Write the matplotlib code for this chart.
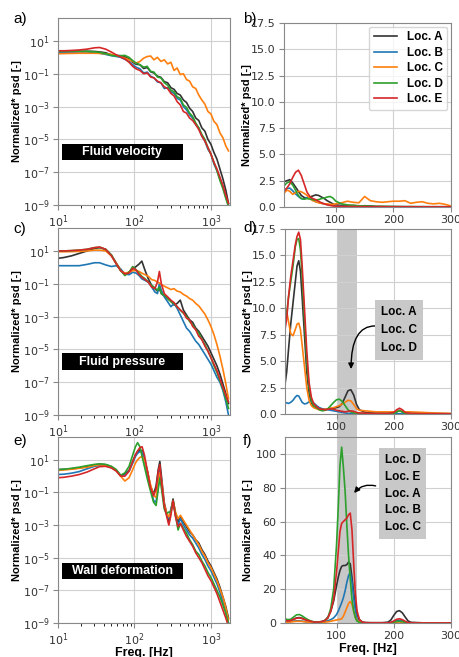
import numpy as np
import matplotlib
matplotlib.use("Agg")
import matplotlib.pyplot as plt
from matplotlib.patches import Rectangle
from matplotlib import transforms
from matplotlib.ticker import NullLocator

# ---- data --------------------------------------------------------------
LABELS = ["Loc. A", "Loc. B", "Loc. C", "Loc. D", "Loc. E"]
COLORS = ["#333333", "#1f77b4", "#ff7f0e", "#2ca02c", "#d62728"]

# log panels: values are log10(psd)
FREQ_VEL = [10, 12, 15, 19, 24, 30, 35, 42, 50, 58, 66, 75, 85, 95, 105, 118, 132, 147, 163, 180,
            200, 222, 246, 272, 300, 330, 362, 398, 437, 480, 527, 578, 634, 695, 762, 835, 915, 1002,
            1097, 1200, 1313, 1436, 1570, 1700]
VEL_A = [0.33, 0.34, 0.35, 0.36, 0.37, 0.36, 0.33, 0.28, 0.15, 0.12, 0.10, 0.02, -0.10, -0.30, -0.42,
         -0.45, -0.68, -0.62, -0.88, -0.95, -1.15, -1.22, -1.48, -1.55, -1.85, -1.95, -2.2, -2.3, -2.6,
         -2.75, -3.1, -3.3, -3.7, -3.85, -4.3, -4.5, -5.0, -5.3, -5.8, -6.2, -6.8, -7.4, -8.1, -8.9]
VEL_B = [0.30, 0.31, 0.32, 0.33, 0.33, 0.30, 0.25, 0.18, 0.10, 0.05, 0.0, -0.12, -0.25, -0.45, -0.6,
         -0.7, -0.95, -0.9, -1.15, -1.25, -1.5, -1.55, -1.9, -1.85, -2.1, -2.2, -2.5, -2.6, -3.0, -3.2,
         -3.5, -3.7, -4.1, -4.3, -4.8, -5.1, -5.6, -5.9, -6.5, -6.9, -7.4, -7.9, -8.5, -9.0]
VEL_C = [0.22, 0.23, 0.24, 0.25, 0.25, 0.25, 0.24, 0.22, 0.18, 0.12, 0.05, -0.05, -0.15, -0.25, -0.35,
         -0.25, -0.05, 0.05, 0.08, -0.15, 0.0, -0.25, -0.15, -0.4, -0.3, -0.8, -0.65, -1.05, -1.0, -1.35,
         -1.45, -1.8, -1.9, -2.3, -2.6, -2.85, -3.3, -3.45, -3.9, -4.1, -4.6, -4.9, -5.4, -5.7]
VEL_D = [0.36, 0.37, 0.38, 0.38, 0.37, 0.34, 0.30, 0.22, 0.12, 0.08, 0.10, 0.12, 0.0, -0.2, -0.35,
         -0.45, -0.6, -0.55, -0.85, -0.9, -1.2, -1.25, -1.55, -1.7, -2.0, -2.1, -2.4, -2.5, -2.9, -3.05,
         -3.4, -3.6, -4.0, -4.3, -4.7, -5.0, -5.5, -5.9, -6.4, -6.9, -7.5, -8.0, -8.6, -9.1]
VEL_E = [0.40, 0.40, 0.42, 0.45, 0.50, 0.58, 0.60, 0.50, 0.32, 0.15, 0.02, -0.1, -0.3, -0.55, -0.7,
         -0.8, -1.0, -0.95, -1.2, -1.25, -1.45, -1.55, -1.8, -1.9, -2.2, -2.35, -2.7, -2.9, -3.3, -3.4,
         -3.7, -3.85, -4.1, -4.4, -4.8, -5.1, -5.5, -5.9, -6.4, -6.8, -7.3, -7.8, -8.4, -8.9]

FREQ_PRES = [10, 12, 15, 19, 24, 30, 35, 42, 50, 58, 66, 75, 85, 95, 105, 115, 125, 138, 152, 168,
             185, 200, 212, 225, 246, 272, 300, 330, 362, 398, 437, 480, 527, 578, 634, 695, 762, 835,
             915, 1002, 1097, 1200, 1313, 1436, 1570, 1700]
PRES_A = [0.55, 0.6, 0.7, 0.85, 1.0, 1.15, 1.2, 1.1, 0.75, 0.25, -0.15, -0.4, -0.3, -0.1, 0.05, 0.2,
          0.38, -0.2, -0.7, -1.1, -1.3, -1.45, -1.3, -1.6, -1.75, -1.9, -2.05, -2.3, -2.2, -2.0, -2.6,
          -2.9, -3.2, -3.35, -3.7, -3.9, -4.2, -4.5, -4.8, -5.2, -5.6, -6.0, -6.5, -7.1, -7.7, -8.3]
PRES_B = [0.1, 0.1, 0.1, 0.1, 0.18, 0.28, 0.28, 0.15, 0.05, 0.1, -0.1, -0.4, -0.45, -0.3, -0.35, -0.5,
          -0.7, -0.8, -0.9, -1.2, -1.5, -1.6, -1.0, -1.4, -1.8, -2.1, -2.4, -2.2, -2.5, -2.9, -3.3,
          -3.7, -3.9, -4.2, -4.5, -4.7, -5.0, -5.3, -5.6, -5.9, -6.3, -6.7, -7.0, -7.5, -8.2, -9.0]
PRES_C = [0.95, 0.95, 0.96, 0.97, 1.0, 1.05, 1.05, 1.0, 0.7, 0.25, -0.2, -0.35, -0.3, -0.2, -0.2,
          -0.25, -0.35, -0.45, -0.55, -0.75, -0.8, -0.9, -0.95, -1.05, -1.15, -1.25, -1.35, -1.3,
          -1.45, -1.5, -1.65, -1.75, -1.9, -2.0, -2.2, -2.35, -2.6, -2.85, -3.2, -3.6, -4.1, -4.7,
          -5.4, -6.2, -7.1, -8.0]
PRES_D = [1.0, 1.0, 1.02, 1.05, 1.1, 1.2, 1.22, 1.1, 0.75, 0.2, -0.2, -0.5, -0.3, 0.05, -0.15, -0.35,
          -0.55, -0.7, -0.9, -1.1, -1.25, -1.4, -1.2, -1.6, -1.7, -1.9, -2.1, -2.2, -2.4, -2.6, -2.8,
          -3.0, -3.3, -3.5, -3.8, -4.0, -4.4, -4.7, -5.1, -5.5, -6.0, -6.4, -6.9, -7.4, -8.0, -8.6]
PRES_E = [1.0, 1.0, 1.02, 1.05, 1.1, 1.2, 1.24, 1.1, 0.7, 0.2, -0.2, -0.4, -0.35, -0.05, -0.15, -0.45,
          -0.6, -0.75, -0.9, -1.2, -1.3, -0.9, -0.25, -1.0, -1.6, -1.8, -2.0, -2.15, -2.4, -2.6, -2.75,
          -3.1, -3.2, -3.6, -3.8, -4.2, -4.4, -4.8, -5.1, -5.5, -5.9, -6.3, -6.8, -7.3, -7.8, -8.2]

FREQ_WALL = [10, 12, 15, 19, 24, 30, 35, 42, 50, 58, 66, 75, 85, 95, 103, 110, 118, 126, 135, 148,
             162, 178, 192, 205, 215, 228, 245, 262, 282, 300, 320, 345, 372, 400, 437, 480, 527, 578,
             634, 695, 762, 835, 915, 1002, 1097, 1200, 1313, 1436, 1570, 1700]
WALL_A = [0.4, 0.42, 0.45, 0.5, 0.58, 0.68, 0.73, 0.7, 0.58, 0.35, 0.02, 0.15, 0.35, 0.9, 1.3, 1.5,
          1.6, 1.55, 1.1, 0.3, -0.6, -1.1, -0.6, 0.4, 0.9, -0.2, -1.6, -2.2, -2.9, -2.1, -1.4, -2.3,
          -2.8, -2.5, -2.8, -3.1, -3.4, -3.6, -3.9, -4.1, -4.5, -4.8, -5.2, -5.5, -5.9, -6.3, -6.8,
          -7.4, -8.0, -8.7]
WALL_B = [0.1, 0.12, 0.18, 0.28, 0.45, 0.6, 0.65, 0.63, 0.52, 0.35, 0.05, 0.05, 0.3, 0.8, 1.2, 1.4,
          1.5, 1.5, 1.0, 0.1, -0.7, -1.5, -1.6, -0.6, 0.4, -0.6, -1.8, -2.3, -2.6, -2.0, -1.6, -2.4,
          -3.0, -2.6, -3.0, -3.3, -3.6, -3.8, -4.1, -4.4, -4.8, -5.1, -5.5, -5.8, -6.2, -6.6, -7.1,
          -7.7, -8.3, -9.0]
WALL_C = [0.35, 0.38, 0.42, 0.48, 0.55, 0.65, 0.7, 0.66, 0.55, 0.35, 0.0, -0.3, -0.1, 0.4, 0.8, 1.0,
          1.15, 1.2, 1.0, 0.3, -0.5, -1.2, -1.3, -0.4, 0.2, -0.4, -1.7, -2.2, -2.5, -2.2, -1.5, -2.2,
          -2.6, -2.4, -2.7, -3.0, -3.3, -3.6, -3.9, -4.2, -4.6, -4.9, -5.3, -5.6, -6.0, -6.4, -6.9,
          -7.4, -8.1, -8.8]
WALL_D = [0.4, 0.42, 0.48, 0.55, 0.64, 0.72, 0.75, 0.72, 0.6, 0.4, 0.05, 0.2, 0.6, 1.3, 1.8, 2.05,
          1.8, 1.2, 0.6, -0.2, -0.9, -1.6, -1.8, -0.8, -0.1, -0.9, -2.0, -2.3, -2.2, -2.2, -1.5, -2.4,
          -3.3, -2.9, -3.2, -3.5, -3.9, -4.2, -4.6, -4.8, -5.2, -5.5, -5.9, -6.2, -6.6, -7.0, -7.4,
          -7.9, -8.4, -9.0]
WALL_E = [-0.1, -0.07, 0.0, 0.1, 0.25, 0.45, 0.58, 0.6, 0.5, 0.3, 0.0, 0.0, 0.3, 0.9, 1.3, 1.55,
          1.75, 1.8, 1.3, 0.3, -0.7, -1.2, -0.8, 0.3, 0.7, -0.5, -1.8, -2.4, -3.0, -2.4, -1.5, -2.5,
          -3.1, -2.9, -3.3, -3.7, -4.0, -4.3, -4.7, -5.0, -5.3, -5.7, -6.1, -6.4, -6.8, -7.2, -7.7,
          -8.2, -8.7, -9.2]

# linear panels
FREQ_VEL_LIN = [10, 15, 20, 25, 30, 35, 40, 45, 50, 55, 60, 65, 70, 75, 80, 85, 90, 95, 100, 110,
                120, 130, 140, 150, 160, 170, 180, 190, 200, 210, 220, 230, 240, 250, 260, 270, 280,
                290, 300]
LIN_VEL_A = [2.4, 2.5, 2.6, 2.3, 1.9, 1.5, 1.1, 0.9, 0.85, 0.95, 1.05, 1.15, 1.1, 0.95, 0.8, 0.6, 0.45,
             0.3, 0.2, 0.15, 0.12, 0.15, 0.1, 0.12, 0.1, 0.05, 0.05, 0.04, 0.04, 0.03, 0.03, 0.03,
             0.02, 0.02, 0.02, 0.02, 0.02, 0.02, 0.02]
LIN_VEL_B = [1.6, 1.75, 1.8, 1.55, 1.25, 1.0, 0.8, 0.75, 0.9, 0.85, 0.7, 0.5, 0.45, 0.35, 0.3, 0.25,
             0.2, 0.15, 0.1, 0.06, 0.05, 0.04, 0.03, 0.03, 0.03, 0.02, 0.02, 0.02, 0.02, 0.02, 0.02,
             0.02, 0.02, 0.02, 0.02, 0.02, 0.02, 0.02, 0.02]
LIN_VEL_C = [1.3, 1.6, 1.5, 1.2, 1.35, 1.5, 1.45, 1.3, 1.1, 0.8, 0.6, 0.5, 0.4, 0.35, 0.3, 0.3, 0.25,
             0.25, 0.3, 0.4, 0.55, 0.45, 0.4, 1.0, 0.6, 0.5, 0.45, 0.5, 0.55, 0.55, 0.6, 0.35, 0.45,
             0.5, 0.35, 0.3, 0.35, 0.25, 0.1]
LIN_VEL_D = [2.0, 2.3, 2.4, 2.1, 1.6, 1.1, 0.8, 0.75, 0.8, 0.75, 0.7, 0.65, 0.7, 0.8, 0.85, 0.95, 1.0,
             0.85, 0.55, 0.3, 0.2, 0.15, 0.12, 0.1, 0.08, 0.06, 0.05, 0.05, 0.04, 0.04, 0.03, 0.03,
             0.03, 0.03, 0.02, 0.02, 0.02, 0.02, 0.02]
LIN_VEL_E = [1.5, 1.8, 2.2, 2.8, 3.3, 3.5, 3.0, 2.2, 1.4, 1.0, 0.8, 0.7, 0.55, 0.4, 0.3, 0.2, 0.15,
             0.1, 0.08, 0.05, 0.05, 0.04, 0.04, 0.03, 0.03, 0.03, 0.03, 0.02, 0.02, 0.02, 0.02, 0.02,
             0.02, 0.02, 0.02, 0.02, 0.02, 0.02, 0.02]

FREQ_PRES_LIN = [10, 13, 16, 20, 24, 28, 31, 34, 37, 40, 44, 48, 52, 56, 60, 65, 70, 75, 80, 85, 90,
                 95, 100, 105, 110, 115, 120, 125, 130, 135, 140, 150, 160, 170, 180, 190, 200, 205,
                 210, 215, 220, 230, 250, 270, 300]
LIN_PRES_A = [2.8, 4.0, 6.0, 8.5, 10.5, 12.5, 14.0, 14.5, 13.5, 11.0, 7.5, 4.0, 2.0, 1.0, 0.7, 0.55,
              0.45, 0.4, 0.4, 0.45, 0.5, 0.55, 0.6, 0.7, 1.0, 1.6, 2.2, 2.3, 1.8, 0.9, 0.4, 0.15, 0.1,
              0.08, 0.08, 0.08, 0.1, 0.2, 0.35, 0.2, 0.08, 0.05, 0.04, 0.03, 0.02]
LIN_PRES_B = [1.1, 1.05, 1.0, 1.1, 1.3, 1.6, 1.75, 1.7, 1.4, 1.1, 0.95, 1.0, 1.15, 1.2, 1.05, 0.8,
              0.6, 0.5, 0.45, 0.4, 0.35, 0.3, 0.25, 0.2, 0.15, 0.1, 0.05, 0.04, 0.03, 0.03, 0.03,
              0.02, 0.02, 0.02, 0.02, 0.02, 0.02, 0.02, 0.03, 0.02, 0.02, 0.02, 0.02, 0.02, 0.02]
LIN_PRES_C = [10.0, 9.7, 8.8, 7.6, 7.4, 8.0, 8.5, 8.6, 8.0, 6.5, 4.5, 2.5, 1.3, 0.8, 0.6, 0.5, 0.4,
              0.4, 0.45, 0.5, 0.55, 0.6, 0.7, 0.8, 0.95, 1.1, 1.3, 1.25, 0.9, 0.5, 0.35, 0.3, 0.25,
              0.2, 0.2, 0.2, 0.2, 0.25, 0.3, 0.25, 0.2, 0.2, 0.15, 0.1, 0.05]
LIN_PRES_D = [8.5, 9.5, 11.0, 12.5, 14.0, 15.8, 16.5, 16.6, 15.5, 13.0, 9.0, 5.0, 2.5, 1.3, 0.8, 0.6,
              0.4, 0.3, 0.35, 0.5, 0.8, 1.1, 1.35, 1.4, 1.2, 0.8, 0.4, 0.2, 0.1, 0.05, 0.03, 0.03,
              0.03, 0.03, 0.03, 0.03, 0.05, 0.2, 0.3, 0.2, 0.05, 0.03, 0.02, 0.02, 0.02]
LIN_PRES_E = [8.0, 9.0, 11.0, 13.0, 14.5, 16.0, 16.8, 17.2, 16.5, 14.0, 10.0, 6.0, 3.0, 1.6, 1.0,
              0.7, 0.5, 0.45, 0.4, 0.45, 0.5, 0.45, 0.35, 0.3, 0.25, 0.2, 0.25, 0.3, 0.25, 0.15, 0.1,
              0.08, 0.05, 0.05, 0.05, 0.05, 0.15, 0.4, 0.55, 0.4, 0.15, 0.05, 0.03, 0.03, 0.02]

FREQ_WALL_LIN = [10, 15, 20, 25, 30, 35, 40, 45, 50, 55, 60, 65, 70, 75, 80, 85, 90, 95, 100, 103,
                 106, 109, 112, 115, 118, 121, 124, 127, 130, 133, 136, 140, 145, 150, 160, 170, 180,
                 190, 195, 200, 205, 210, 215, 220, 225, 230, 250, 270, 300]
LIN_WALL_A = [1.5, 1.2, 1.5, 2.2, 3.0, 3.2, 2.8, 2.0, 1.4, 0.9, 0.6, 0.5, 0.6, 0.9, 1.6, 3.5, 7.0, 13,
              22, 27, 31, 33.5, 34, 34, 34.5, 36, 35, 27, 18, 10, 5, 2, 0.6, 0.3, 0.2, 0.2, 0.2, 0.5,
              1.8, 4.5, 6.8, 7.3, 6.0, 3.5, 1.2, 0.4, 0.1, 0.05, 0.05]
LIN_WALL_B = [1.0, 0.8, 0.9, 1.1, 1.3, 1.3, 1.1, 0.8, 0.6, 0.4, 0.3, 0.3, 0.35, 0.5, 0.8, 1.3, 2.0,
              3.0, 5.0, 7.0, 9.5, 12, 15, 19, 24, 28, 30, 24, 15, 7, 2.5, 0.8, 0.3, 0.1, 0.05, 0.05,
              0.05, 0.1, 0.3, 0.8, 1.4, 1.6, 1.2, 0.5, 0.1, 0.05, 0.03, 0.03, 0.03]
LIN_WALL_C = [0.6, 0.5, 0.6, 0.8, 1.0, 1.0, 0.9, 0.7, 0.5, 0.35, 0.3, 0.3, 0.3, 0.4, 0.5, 0.7, 1.0,
              1.4, 1.8, 2.0, 2.2, 2.5, 4.0, 6.5, 9.0, 11.5, 12.7, 11, 7, 3.5, 1.5, 0.6, 0.2, 0.1,
              0.05, 0.05, 0.05, 0.05, 0.1, 0.3, 0.5, 0.6, 0.4, 0.2, 0.05, 0.03, 0.02, 0.02, 0.02]
LIN_WALL_D = [2.5, 2.0, 2.2, 3.5, 4.8, 5.0, 4.2, 3.0, 2.0, 1.2, 0.7, 0.5, 0.6, 0.9, 1.5, 3.0, 8.8,
              20, 46, 68, 93, 104, 92, 78, 58, 40, 26, 14, 7, 3, 1.0, 0.3, 0.1, 0.05, 0.05, 0.05,
              0.05, 0.05, 0.2, 0.5, 0.9, 1.0, 0.8, 0.4, 0.1, 0.05, 0.03, 0.03, 0.03]
LIN_WALL_E = [1.5, 1.2, 1.5, 2.2, 2.8, 3.0, 2.6, 2.0, 1.5, 1.0, 0.6, 0.5, 0.6, 0.9, 1.5, 3.0, 7.0,
              14, 30, 42, 54, 59, 60, 61, 62, 64, 65, 55, 35, 17, 7, 2, 0.5, 0.2, 0.1, 0.1, 0.1, 0.1,
              0.4, 1.2, 2.2, 2.5, 2.0, 1.0, 0.3, 0.1, 0.05, 0.05, 0.05]

BAND = (100, 135)  # highlighted frequency range [Hz]

# ---- figure ---------------------------------------------------------------
W, H = 459, 657
fig = plt.figure(figsize=(W / 100, H / 100), dpi=100)
LABEL_FONT = "Liberation Sans"
YLABEL = "Normalized* psd [-]"


def px_axes(l, t, r, b):
    return fig.add_axes([l / W, 1 - b / H, (r - l) / W, (b - t) / H])


def common_style(ax):
    ax.grid(True, which="major", color="#d0d0d0", lw=0.8)
    ax.set_axisbelow(True)
    for s in ax.spines.values():
        s.set_color("#888888")
        s.set_linewidth(0.8)
    ax.tick_params(labelsize=8, labelcolor="#333333", color="#888888", pad=2.5)
    ax.set_ylabel(YLABEL, fontsize=8, fontweight="bold", family=LABEL_FONT)


def log_panel(ax, freqs, series, tag, box_y):
    for vals, c, lab in zip(series, COLORS, LABELS):
        ax.plot(freqs, 10.0 ** np.array(vals), color=c, lw=1.2, label=lab)
    ax.set_xscale("log")
    ax.set_yscale("log")
    ax.set_xlim(10, 1780)
    ax.set_ylim(1e-9, 250)
    ax.set_yticks([1e1, 1e-1, 1e-3, 1e-5, 1e-7, 1e-9])
    ax.yaxis.set_minor_locator(NullLocator())
    common_style(ax)
    ax.yaxis.set_label_coords(-0.21, 0.5)
    ax.add_patch(Rectangle((0.023, box_y), 0.704, 0.086, transform=ax.transAxes,
                           facecolor="black", edgecolor="none", zorder=5))
    ax.text(0.375, box_y + 0.043, tag, transform=ax.transAxes, color="white",
            fontweight="bold", family=LABEL_FONT, fontsize=9, ha="center", va="center", zorder=6)


def lin_panel(ax, freqs, series, ylim):
    for vals, c, lab in zip(series, COLORS, LABELS):
        ax.plot(freqs, vals, color=c, lw=1.2, label=lab)
    ax.set_xlim(10, 300)
    ax.set_ylim(*ylim)
    ax.set_xticks([100, 200, 300])
    common_style(ax)
    ax.yaxis.set_label_coords(-0.19, 0.5)


ax_a = px_axes(58, 18, 230, 205)
ax_b = px_axes(284, 23, 451, 207)
ax_c = px_axes(58, 228, 230, 415)
ax_d = px_axes(285, 229, 451, 414)
ax_e = px_axes(58, 437, 230, 623)
ax_f = px_axes(285, 437, 451, 623)

log_panel(ax_a, FREQ_VEL, [VEL_A, VEL_B, VEL_C, VEL_D, VEL_E], "Fluid velocity", 0.24)
log_panel(ax_c, FREQ_PRES, [PRES_A, PRES_B, PRES_C, PRES_D, PRES_E], "Fluid pressure", 0.243)
log_panel(ax_e, FREQ_WALL, [WALL_A, WALL_B, WALL_C, WALL_D, WALL_E], "Wall deformation", 0.237)

lin_panel(ax_b, FREQ_VEL_LIN, [LIN_VEL_A, LIN_VEL_B, LIN_VEL_C, LIN_VEL_D, LIN_VEL_E], (0, 17.5))
lin_panel(ax_d, FREQ_PRES_LIN, [LIN_PRES_A, LIN_PRES_B, LIN_PRES_C, LIN_PRES_D, LIN_PRES_E], (0, 17.5))
lin_panel(ax_f, FREQ_WALL_LIN, [LIN_WALL_A, LIN_WALL_B, LIN_WALL_C, LIN_WALL_D, LIN_WALL_E], (0, 110))
ax_f.set_yticks([0, 20, 40, 60, 80, 100])

ax_b.legend(loc="upper right", prop={"family": LABEL_FONT, "weight": "bold", "size": 8.5},
            labelspacing=0.3, borderaxespad=0.3, handlelength=2.0)

ax_e.set_xlabel("Freq. [Hz]", fontsize=9, fontweight="bold", family=LABEL_FONT, labelpad=-1)
ax_f.set_xlabel("Freq. [Hz]", fontsize=9, fontweight="bold", family=LABEL_FONT, labelpad=1)

# grey band running through panels d and f
ax_d.set_facecolor("none")
ax_f.set_facecolor("none")
band_tr = transforms.blended_transform_factory(ax_d.transData, fig.transFigure)
fig.add_artist(Rectangle((BAND[0], 1 - 623 / H), BAND[1] - BAND[0], (623 - 229) / H,
                         transform=band_tr, facecolor="#c8c8c8", edgecolor="none", zorder=-1))

note_kw = dict(ha="center", va="center", fontsize=8.5, fontweight="bold",
               family=LABEL_FONT, zorder=6,
               bbox=dict(boxstyle="square,pad=0.5", facecolor="#c8c8c8", edgecolor="none"))
ax_d.text(0.687, 0.454, "Loc. A\nLoc. C\nLoc. D", linespacing=1.7,
          transform=ax_d.transAxes, **note_kw)
ax_d.annotate("", xy=(0.398, 0.243), xytext=(0.542, 0.476), xycoords="axes fraction",
              textcoords="axes fraction",
              arrowprops=dict(arrowstyle="-|>", color="black", lw=1.0, mutation_scale=8,
                              shrinkA=0, shrinkB=0,
                              connectionstyle="angle3,angleA=0,angleB=90"))
ax_f.text(0.708, 0.696, "Loc. D\nLoc. E\nLoc. A\nLoc. B\nLoc. C", linespacing=1.55,
          transform=ax_f.transAxes, **note_kw)
ax_f.annotate("", xy=(0.416, 0.699), xytext=(0.546, 0.737), xycoords="axes fraction",
              textcoords="axes fraction",
              arrowprops=dict(arrowstyle="-|>", color="black", lw=1.0, mutation_scale=8,
                              shrinkA=0, shrinkB=0, connectionstyle="arc3,rad=0.3"))

# panel letters
for txt, x, y in [("a)", 13, 19), ("b)", 243, 19), ("c)", 13, 229),
                  ("d)", 243, 228), ("e)", 13, 441), ("f)", 243, 441)]:
    fig.text(x / W, 1 - y / H, txt, fontsize=11, family=LABEL_FONT, ha="left", va="center")

fig.savefig("out.png", dpi=100)
